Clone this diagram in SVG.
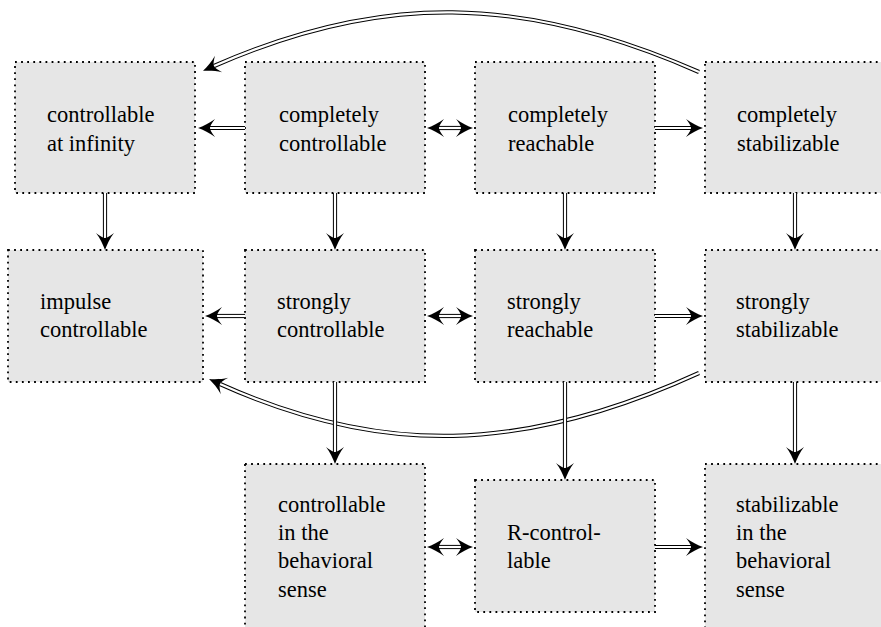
<svg xmlns="http://www.w3.org/2000/svg" width="881" height="627" viewBox="0 0 881 627">
<style>
.box{fill:#e6e6e6;stroke:#000;stroke-width:1.8;stroke-dasharray:1.8 4.3}
text{font-family:'Liberation Serif','Liberation Sans',Arial,sans-serif;font-size:22.5px;fill:#000}
.outer{fill:none;stroke:#000;stroke-width:4.2}
.inner{fill:none;stroke:#fff;stroke-width:2.2}
</style>
<defs>
<marker id="head" markerUnits="userSpaceOnUse" viewBox="-7 -10 20 20" markerWidth="20" markerHeight="20" refX="0" refY="0" orient="auto-start-reverse" overflow="visible">
<path d="M12,0 C7,-1.8 0,-5 -5,-9 C-1.5,-4.5 0,-1.8 0,0 C0,1.8 -1.5,4.5 -5,9 C0,5 7,1.8 12,0 Z" fill="#000"/>
</marker>
</defs>
<rect width="881" height="627" fill="#fff"/>

<g id="n-ctrl-inf"><rect class="box" x="15" y="62" width="180" height="131"/><text x="47" y="122">controllable</text><text x="47" y="151">at infinity</text></g>
<g id="n-comp-ctrl"><rect class="box" x="245" y="62" width="180" height="131"/><text x="279" y="122">completely</text><text x="279" y="151">controllable</text></g>
<g id="n-comp-reach"><rect class="box" x="475" y="62" width="180" height="131"/><text x="508" y="122">completely</text><text x="508" y="151">reachable</text></g>
<g id="n-comp-stab"><rect class="box" x="705" y="62" width="185" height="131"/><text x="737" y="122">completely</text><text x="737" y="151">stabilizable</text></g>

<g id="n-impulse"><rect class="box" x="8" y="250" width="195" height="132"/><text x="40" y="309">impulse</text><text x="40" y="337">controllable</text></g>
<g id="n-str-ctrl"><rect class="box" x="245" y="250" width="180" height="132"/><text x="277" y="309">strongly</text><text x="277" y="337">controllable</text></g>
<g id="n-str-reach"><rect class="box" x="475" y="250" width="180" height="132"/><text x="507" y="309">strongly</text><text x="507" y="337">reachable</text></g>
<g id="n-str-stab"><rect class="box" x="705" y="250" width="185" height="132"/><text x="736" y="309">strongly</text><text x="736" y="337">stabilizable</text></g>

<g id="n-beh-ctrl"><rect class="box" x="245" y="464" width="180" height="190"/><text x="278" y="512">controllable</text><text x="278" y="540">in the</text><text x="278" y="568">behavioral</text><text x="278" y="597">sense</text></g>
<g id="n-r-ctrl"><rect class="box" x="475" y="480" width="180" height="132"/><text x="507" y="540">R-control-</text><text x="507" y="568">lable</text></g>
<g id="n-beh-stab"><rect class="box" x="705" y="464" width="185" height="190"/><text x="736" y="512">stabilizable</text><text x="736" y="540">in the</text><text x="736" y="568">behavioral</text><text x="736" y="597">sense</text></g>

<g id="connectors">
<path class="outer" d="M699,72 C522,-6 380,-7 214,66"/>
<path class="inner" d="M699,72 C522,-6 380,-7 214,66" marker-end="url(#head)"/>
<path class="outer" d="M699,373 C522,454 380,456 220,384"/>
<path class="inner" d="M699,373 C522,454 380,456 220,384" marker-end="url(#head)"/>
<path class="outer" d="M245,128 H210"/><path class="inner" d="M245,128 H210" marker-end="url(#head)"/>
<path class="outer" d="M439,128 H461"/><path class="inner" d="M439,128 H461" marker-start="url(#head)" marker-end="url(#head)"/>
<path class="outer" d="M655,128 H691"/><path class="inner" d="M655,128 H691" marker-end="url(#head)"/>
<path class="outer" d="M245,316 H217"/><path class="inner" d="M245,316 H217" marker-end="url(#head)"/>
<path class="outer" d="M439,316 H461"/><path class="inner" d="M439,316 H461" marker-start="url(#head)" marker-end="url(#head)"/>
<path class="outer" d="M655,316 H691"/><path class="inner" d="M655,316 H691" marker-end="url(#head)"/>
<path class="outer" d="M439,547 H461"/><path class="inner" d="M439,547 H461" marker-start="url(#head)" marker-end="url(#head)"/>
<path class="outer" d="M655,547 H691"/><path class="inner" d="M655,547 H691" marker-end="url(#head)"/>
<path class="outer" d="M105,193 V238"/><path class="inner" d="M105,193 V238" marker-end="url(#head)"/>
<path class="outer" d="M335,193 V238"/><path class="inner" d="M335,193 V238" marker-end="url(#head)"/>
<path class="outer" d="M565,193 V238"/><path class="inner" d="M565,193 V238" marker-end="url(#head)"/>
<path class="outer" d="M795,193 V238"/><path class="inner" d="M795,193 V238" marker-end="url(#head)"/>
<path class="outer" d="M335,382 V452"/><path class="inner" d="M335,382 V452" marker-end="url(#head)"/>
<path class="outer" d="M565,382 V468"/><path class="inner" d="M565,382 V468" marker-end="url(#head)"/>
<path class="outer" d="M795,382 V452"/><path class="inner" d="M795,382 V452" marker-end="url(#head)"/>
</g>
</svg>
